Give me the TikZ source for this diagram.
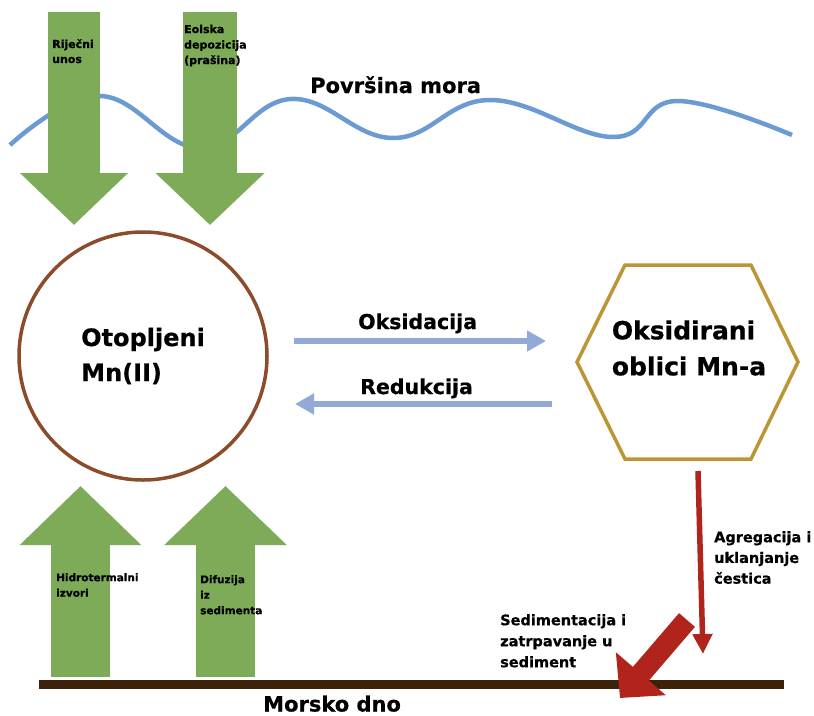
\documentclass[tikz,border=0pt]{standalone}
\usepackage{fontspec}
\setmainfont{DejaVu Sans}[BoldFeatures={FakeBold=0.6}]
\usetikzlibrary{arrows.meta}
\definecolor{arrowgreen}{HTML}{7DAB57}
\definecolor{wavecol}{HTML}{6B9BD2}
\definecolor{circbrown}{HTML}{8C4B2A}
\definecolor{hexgold}{HTML}{BC9535}
\definecolor{floorbrown}{HTML}{3B2209}
\definecolor{redox}{HTML}{93AAD8}
\definecolor{sinkred}{HTML}{B0241B}
\begin{document}
\begin{tikzpicture}[x=1pt,y=-1pt,
  smalllbl/.style={anchor=north west,inner sep=0pt,align=left,
    font=\bfseries\fontsize{10.5}{15.5}\selectfont},
  midlbl/.style={anchor=north west,inner sep=0pt,align=left,
    font=\bfseries\fontsize{14.5}{20.7}\selectfont},
  biglbl/.style={anchor=base west,inner sep=0pt,
    font=\bfseries\fontsize{20.5}{24}\selectfont},
  mncircle/.style={circle,draw=circbrown,line width=3.5pt,minimum size=248pt,
    align=left,font=\bfseries\fontsize{24}{35}\selectfont},
  bluearrow/.style={redox,line width=6pt,-{Triangle[width=20pt,length=19pt]}}]
\useasboundingbox (0,0) rectangle (814,715);
\draw[wavecol,line width=4.5pt] plot[smooth,tension=0.7] coordinates
  {(10,145) (100,96) (200,148) (291,99) (393,138) (490,100) (613,137) (677,101) (792,135)};
\draw[arrowgreen,line width=52pt,-{Triangle[width=105pt,length=52pt]}] (74,12) -- (74,225);
\draw[arrowgreen,line width=54pt,-{Triangle[width=106pt,length=52pt]}] (210,12) -- (210,225);
\draw[arrowgreen,line width=59pt,-{Triangle[width=118pt,length=59pt]}] (80.5,677) -- (80.5,486);
\draw[arrowgreen,line width=59pt,-{Triangle[width=119pt,length=59pt]}] (225.5,677) -- (225.5,486);
\node[smalllbl,font=\bfseries\fontsize{11}{15}\selectfont] (rijecni) at (52,39) {Riječni\\unos};
\node[smalllbl,font=\bfseries\fontsize{11}{15.5}\selectfont] (eolska) at (184,24.5) {Eolska\\depozicija\\(prašina)};
\node[smalllbl] (hidro) at (56,573) {Hidrotermalni\\izvori};
\node[smalllbl] (difuzija) at (200,575) {Difuzija\\iz\\sedimenta};
\node[biglbl,font=\bfseries\fontsize{21}{24}\selectfont] (povrsina) at (310,93) {Površina mora};
\node[mncircle] (otopljeni) at (143,356) {Otopljeni\\Mn(II)};
\draw[hexgold,line width=3.5pt] (625,265) -- (751,265) -- (798,362) -- (751,459) -- (625,459) -- (577,362) -- cycle;
\node[align=left,inner sep=0pt,font=\bfseries\fontsize{25}{36}\selectfont] (oksidirani) at (689,348) {Oksidirani\\oblici Mn-a};
\coordinate (oksA) at (294,341);
\coordinate (oksB) at (546,341);
\coordinate (redA) at (552,404);
\coordinate (redB) at (295,404);
\draw[bluearrow] (oksA) -- (oksB);
\draw[bluearrow] (redA) -- (redB);
\node[biglbl] (oksidacija) at (358,329) {Oksidacija};
\node[biglbl] (redukcija) at (360,394) {Redukcija};
\fill[floorbrown] (39,680) rectangle (784,689);
\node[biglbl,font=\bfseries\fontsize{21}{24}\selectfont] (dno) at (263,711.5) {Morsko dno};
\coordinate (aggA) at (698,471);
\coordinate (aggB) at (703,654);
\draw[sinkred,line width=5.5pt,-{Triangle[width=19pt,length=20pt]}] (aggA) -- (aggB);
\coordinate (sedA) at (687,620);
\coordinate (sedB) at (620,698);
\draw[sinkred,line width=21pt,-{Triangle[width=64pt,length=32pt]}] (sedA) -- (sedB);
\node[midlbl] (agregacija) at (714,531) {Agregacija i\\uklanjanje\\čestica};
\node[midlbl,font=\bfseries\fontsize{14.5}{21}\selectfont] (sedimentacija) at (500,614) {Sedimentacija i\\zatrpavanje u\\sediment};
\end{tikzpicture}
\end{document}
